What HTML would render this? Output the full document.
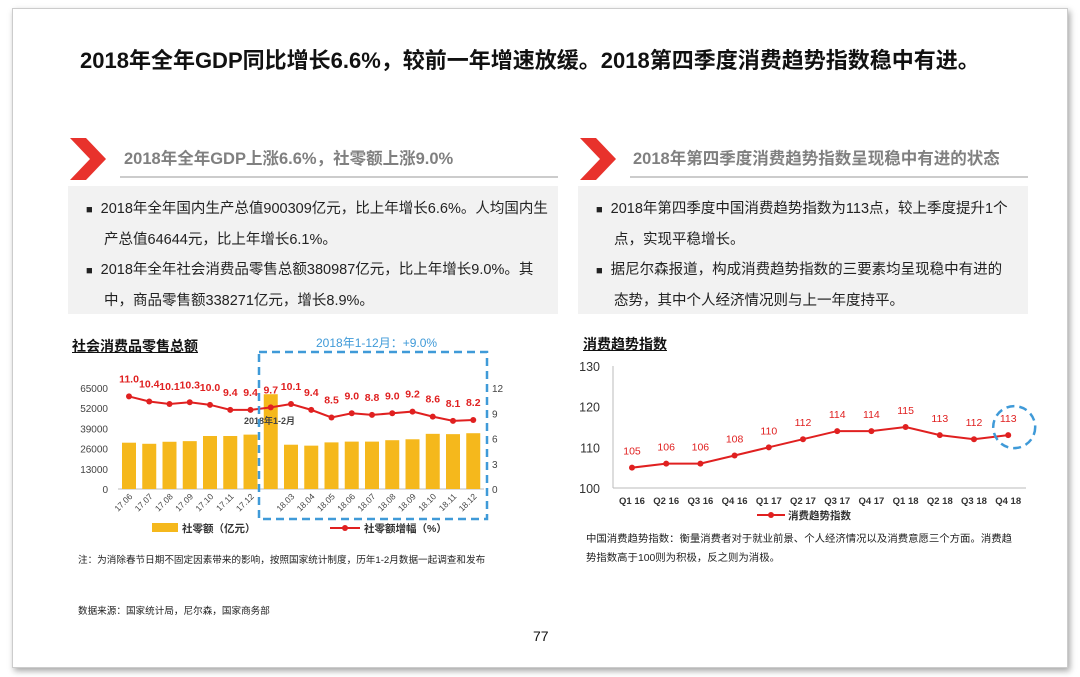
<!DOCTYPE html>
<html><head><meta charset="utf-8"><style>
body{margin:0;width:1080px;height:677px;background:#fff;font-family:"Liberation Sans","Noto Sans CJK SC",sans-serif;position:relative;overflow:hidden}
.abs{position:absolute}
.card{left:12px;top:8px;width:1054px;height:658px;border:1px solid #ccc;box-shadow:2px 3px 6px rgba(0,0,0,.35);background:#fff}
.box{background:#f2f2f2;font-size:14.5px;color:#222;line-height:30px}
.box p{margin:0;padding-left:32px;text-indent:-18px}
.box p:before{content:"■";font-size:11px;margin-right:8px}
.hdr{font-size:16.5px;font-weight:bold;color:#808080}
.line{height:2px;background:#ccc}
</style></head><body>
<div class="abs card"></div>
<div class="abs" style="left:80px;top:43px;font-size:22px;font-weight:bold;color:#111;white-space:nowrap">2018年全年GDP同比增长6.6%，较前一年增速放缓。2018第四季度消费趋势指数稳中有进。</div>

<svg class="abs" style="left:70px;top:138px" width="36" height="42"><polygon points="0,0 16,0 36,21 16,42 0,42 20,21" fill="#e8322c"/></svg>
<div class="abs hdr" style="left:124px;top:145px;white-space:nowrap">2018年全年GDP上涨6.6%，社零额上涨9.0%</div>
<div class="abs line" style="left:120px;top:176px;width:438px"></div>
<div class="abs box" style="left:68px;top:186px;width:490px;height:128px;padding-top:8px;box-sizing:border-box;padding-left:4px;padding-right:6px">
<p>2018年全年国内生产总值900309亿元，比上年增长6.6%。人均国内生产总值64644元，比上年增长6.1%。</p>
<p>2018年全年社会消费品零售总额380987亿元，比上年增长9.0%。其中，商品零售额338271亿元，增长8.9%。</p></div>

<svg class="abs" style="left:580px;top:138px" width="36" height="42"><polygon points="0,0 16,0 36,21 16,42 0,42 20,21" fill="#e8322c"/></svg>
<div class="abs hdr" style="left:633px;top:145px;white-space:nowrap">2018年第四季度消费趋势指数呈现稳中有进的状态</div>
<div class="abs line" style="left:630px;top:176px;width:398px"></div>
<div class="abs box" style="left:578px;top:186px;width:450px;height:128px;padding-top:8px;box-sizing:border-box;padding-left:4px;padding-right:14px">
<p>2018年第四季度中国消费趋势指数为113点，较上季度提升1个点，实现平稳增长。</p>
<p>据尼尔森报道，构成消费趋势指数的三要素均呈现稳中有进的态势，其中个人经济情况则与上一年度持平。</p></div>

<div class="abs" style="left:72px;top:336px;font-size:14px;font-weight:bold;color:#111;text-decoration:underline">社会消费品零售总额</div>
<div class="abs" style="left:583px;top:334px;font-size:14px;font-weight:bold;color:#111;text-decoration:underline">消费趋势指数</div>

<svg class="abs" id="lc" style="left:0;top:0" width="1080" height="677"></svg>

<div class="abs" style="left:78px;top:552px;font-size:9.6px;color:#222;white-space:nowrap">注：为消除春节日期不固定因素带来的影响，按照国家统计制度，历年1-2月数据一起调查和发布</div>
<div class="abs" style="left:78px;top:603px;font-size:9.6px;color:#222">数据来源：国家统计局，尼尔森，国家商务部</div>
<div class="abs" style="left:586px;top:530px;width:436px;font-size:10.4px;line-height:19px;color:#222">中国消费趋势指数：衡量消费者对于就业前景、个人经济情况以及消费意愿三个方面。消费趋势指数高于100则为积极，反之则为消极。</div>
<div class="abs" style="left:533px;top:628px;font-size:14px;color:#111">77</div>

<script>
const cats=["17.06","17.07","17.08","17.09","17.10","17.11","17.12","","18.03","18.04","18.05","18.06","18.07","18.08","18.09","18.10","18.11","18.12"];
const sales=[29800,29100,30400,30800,34100,34100,35000,61000,28500,27900,30000,30500,30500,31400,32000,35500,35300,35900];
const growth=[11.0,10.4,10.1,10.3,10.0,9.4,9.4,9.7,10.1,9.4,8.5,9.0,8.8,9.0,9.2,8.6,8.1,8.2];
const leftTicks=[0,13000,26000,39000,52000,65000];
const rightTicks=[0,3,6,9,12];
const qCats=["Q1 16","Q2 16","Q3 16","Q4 16","Q1 17","Q2 17","Q3 17","Q4 17","Q1 18","Q2 18","Q3 18","Q4 18"];
const qVals=[105,106,106,108,110,112,114,114,115,113,112,113];
const qTicks=[100,110,120,130];

const svg=document.getElementById('lc');const NS="http://www.w3.org/2000/svg";
function mk(t,a,txt){const e=document.createElementNS(NS,t);for(const k in a)e.setAttribute(k,a[k]);if(txt!=null)e.textContent=txt;svg.appendChild(e);return e;}
const F='"Liberation Sans","Noto Sans CJK SC",sans-serif';
// left chart
const lx=i=>129+i*20.25, ly=v=>489-v/65000*101, ry=v=>489-v/12*101;
mk('line',{x1:118,y1:489,x2:484,y2:489,stroke:'#bbb'});
leftTicks.forEach(t=>{const e=mk('text',{x:108,y:ly(t)+4,'font-size':10,'text-anchor':'end',fill:'#444','font-family':F},t);});
rightTicks.forEach(t=>{const e=mk('text',{x:492,y:ry(t)+4,'font-size':10,fill:'#444','font-family':F},t);});
sales.forEach((v,i)=>{const e=mk('rect',{x:lx(i)-7,y:ly(v),width:14,height:489-ly(v),fill:'#f5b81c'});});
cats.forEach((c,i)=>{if(!c)return;const x=lx(i)+4,y=497;const e=mk('text',{x:x,y:y,'font-size':8.5,'text-anchor':'end',fill:'#444','font-family':F,transform:`rotate(-45 ${x} ${y})`},c);});
let pts=growth.map((v,i)=>lx(i)+','+ry(v)).join(' ');
let pl=mk('polyline',{points:pts,fill:'none',stroke:'#e02020','stroke-width':2});
growth.forEach((v,i)=>{const c=mk('circle',{cx:lx(i),cy:ry(v),r:3,fill:'#e02020'});
const t=mk('text',{x:lx(i),y:ry(v)-14,'font-size':10.5,'font-weight':'bold','text-anchor':'middle',fill:'#e02020','font-family':F},v.toFixed(1));});
mk('text',{x:244,y:424,'font-size':9,'font-weight':'bold',fill:'#444','font-family':F},'2018年1-2月');
let hb=mk('rect',{x:259,y:352,width:228,height:167,fill:'none',stroke:'#3f9ad8','stroke-width':2.5,'stroke-dasharray':'8,5'});
mk('text',{x:316,y:347,'font-size':12,fill:'#3f9ad8','font-family':F},'2018年1-12月：+9.0%');
mk('rect',{x:152,y:523,width:26,height:9,fill:'#f5b81c'});
mk('text',{x:182,y:532,'font-size':10.5,'font-weight':'bold',fill:'#333','font-family':F},'社零额（亿元）');
mk('line',{x1:330,y1:528,x2:360,y2:528,stroke:'#e02020','stroke-width':2});
mk('circle',{cx:345,cy:528,r:3,fill:'#e02020'});
mk('text',{x:364,y:532,'font-size':10.5,'font-weight':'bold',fill:'#333','font-family':F},'社零额增幅（%）');
// right chart
const qx=i=>632+i*34.2, qy=v=>488-(v-100)/30*122;
mk('line',{x1:613,y1:366,x2:613,y2:488,stroke:'#bbb'});
mk('line',{x1:613,y1:488,x2:1026,y2:488,stroke:'#bbb'});
qTicks.forEach(t=>{const e=mk('text',{x:600,y:qy(t)+5,'font-size':12.5,'text-anchor':'end',fill:'#333','font-family':F},t);});
qCats.forEach((c,i)=>{const e=mk('text',{x:qx(i),y:504,'font-size':9.5,'font-weight':'bold','text-anchor':'middle',fill:'#333','font-family':F},c);});
let ql=mk('polyline',{points:qVals.map((v,i)=>qx(i)+','+qy(v)).join(' '),fill:'none',stroke:'#e02020','stroke-width':2});
qVals.forEach((v,i)=>{const c=mk('circle',{cx:qx(i),cy:qy(v),r:3,fill:'#e02020'});
const t=mk('text',{x:qx(i),y:qy(v)-13,'font-size':10.5,'text-anchor':'middle',fill:'#e02020','font-family':F},v);});
let ci=mk('circle',{cx:qx(11)+6,cy:qy(113)-8,r:21,fill:'none',stroke:'#3f9ad8','stroke-width':2.5,'stroke-dasharray':'8,5'});
mk('line',{x1:757,y1:515,x2:785,y2:515,stroke:'#e02020','stroke-width':2});
mk('circle',{cx:771,cy:515,r:3,fill:'#e02020'});
mk('text',{x:788,y:519,'font-size':10.5,'font-weight':'bold',fill:'#333','font-family':F},'消费趋势指数');
</script>
</body></html>
